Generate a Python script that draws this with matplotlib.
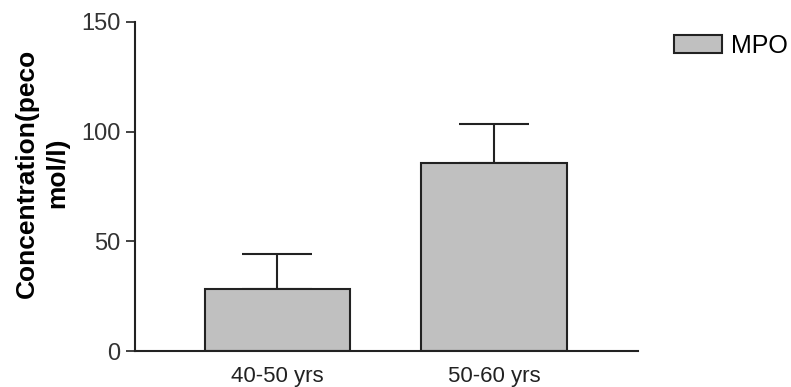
import matplotlib
matplotlib.use("Agg")
import matplotlib.pyplot as plt
import numpy as np

# data
groups = ["40-50 yrs", "50-60 yrs"]
mpo_mean = [28.4, 85.8]
mpo_err_up = [15.8, 17.8]
y_ticks = [0, 50, 100, 150]

EDGE = "#222222"
FILL = "#c0c0c0"

plt.rcParams["font.family"] = ["Liberation Sans", "DejaVu Sans"]

fig = plt.figure(figsize=(7.91, 3.87), dpi=100)
ax = fig.add_axes([135 / 791, 36 / 387, (638 - 135) / 791, (351 - 22) / 387])

x = np.arange(len(groups))
ax.bar(x, mpo_mean, width=0.67, color=FILL, edgecolor=EDGE, linewidth=1.5,
       label="MPO", zorder=2,
       yerr=[np.zeros(len(groups)), mpo_err_up],
       error_kw=dict(ecolor=EDGE, elinewidth=1.5, capsize=25.5, capthick=1.5, zorder=1))

ax.set_xlim(-0.658, 1.665)
ax.set_ylim(0, 150)
ax.set_yticks(y_ticks)
ax.set_xticks(x)
ax.set_xticklabels(groups)
ax.tick_params(axis="y", direction="out", length=6.5, width=1.2, color=EDGE,
               labelsize=17, labelcolor="#333333", pad=4)
ax.tick_params(axis="x", length=0, labelsize=16, labelcolor="#222222", pad=11)
for s in ["top", "right"]:
    ax.spines[s].set_visible(False)
for s in ["left", "bottom"]:
    ax.spines[s].set_color(EDGE)
    ax.spines[s].set_linewidth(1.5)

fig.text(42 / 791, 1 - 173 / 387, "Concentration(peco\nmol/l)", rotation=90,
         ha="center", va="center", multialignment="center",
         fontsize=19, fontweight="bold", linespacing=1.35)

fig.legend(loc="upper left", bbox_to_anchor=(674 / 791, 1 - 34 / 387),
           frameon=False, fontsize=18, handlelength=1.92, handleheight=0.72,
           handletextpad=0.36, borderpad=0, borderaxespad=0)

fig.savefig("out.png", dpi=100)
